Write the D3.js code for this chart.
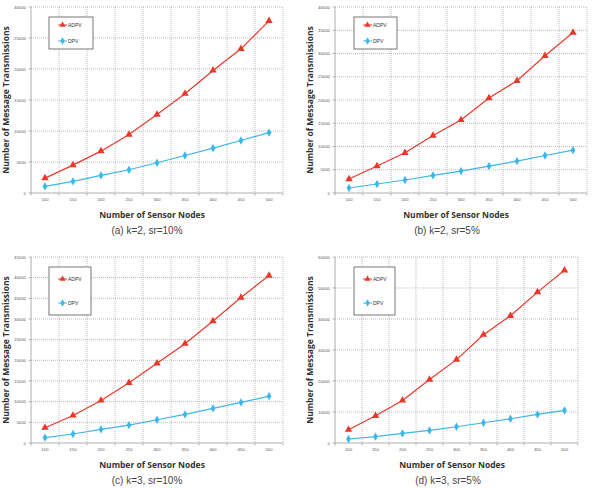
<!DOCTYPE html>
<html>
<head>
<meta charset="utf-8">
<script src="https://cdn.jsdelivr.net/npm/d3@7"></script>
<style>
  body { margin: 0; background: #fff; }
  svg { display: block; }
</style>
</head>
<body>
<script>
// sensor node counts (x categories)
var nodes = [100, 150, 200, 250, 300, 350, 400, 450, 500];

// (a) k=2, sr=10%
var adpvA = [2400, 4500, 6750, 9430, 12650, 16020, 19770, 23250, 27760];
var dpvA  = [1070, 1880, 2840, 3750, 4880, 6050, 7230, 8470, 9750];
// (b) k=2, sr=5%
var adpvB = [3000, 5790, 8640, 12360, 15710, 20430, 24140, 29500, 34500];
var dpvB  = [1070, 1930, 2790, 3790, 4710, 5790, 6860, 8070, 9210];
// (c) k=3, sr=10%
var adpvC = [3700, 6670, 10290, 14550, 19290, 24030, 29500, 35200, 40510];
var dpvC  = [1290, 2170, 3300, 4340, 5630, 6910, 8360, 9810, 11330];
// (d) k=3, sr=5%
var adpvD = [4290, 8790, 13720, 20470, 26900, 34940, 41050, 48660, 55730];
var dpvD  = [1290, 2040, 3110, 4070, 5250, 6540, 7820, 9220, 10500];

var captions = ["(a) k=2, sr=10%", "(b) k=2, sr=5%", "(c) k=3, sr=10%", "(d) k=3, sr=5%"];
var yMaxes = [30000, 40000, 45000, 60000];
var ySteps = [5000, 5000, 5000, 10000];

var red = "#e8382a", blue = "#3db6e8";

var panels = [
  {l: 31, r: 283, t: 7, b: 193, lx: 49, ly: 17, lw: 44, lh: 32, cx: 147, ax: 152, tx: 3},
  {l: 335, r: 587, t: 7, b: 193, lx: 354, ly: 17, lw: 43, lh: 32, cx: 447, ax: 456, tx: 307},
  {l: 31, r: 283, t: 257, b: 443, lx: 49, ly: 267, lw: 42, lh: 48, cx: 147, ax: 152, tx: 3},
  {l: 335, r: 578, t: 257, b: 443, lx: 354, ly: 267, lw: 41, lh: 48, cx: 448, ax: 452, tx: 307}
];
var series = [[adpvA, dpvA], [adpvB, dpvB], [adpvC, dpvC], [adpvD, dpvD]];

var svg = d3.select("body").append("svg")
    .attr("width", 593)
    .attr("height", 488);

panels.forEach(function(p, i) {
  var g = svg.append("g");

  var x = d3.scaleBand()
      .domain(nodes)
      .range([p.l, p.r]);

  var y = d3.scaleLinear()
      .domain([0, yMaxes[i]])
      .range([p.b, p.t]);

  var yTicks = d3.range(0, yMaxes[i] + 1, ySteps[i]);

  // horizontal grid
  g.selectAll(".hgrid").data(yTicks.slice(1)).enter().append("line")
      .attr("x1", p.l).attr("x2", p.r)
      .attr("y1", function(d) { return y(d); })
      .attr("y2", function(d) { return y(d); })
      .attr("stroke", "#aaa")
      .attr("stroke-width", 0.8)
      .attr("stroke-dasharray", "1,1");

  // vertical grid at category boundaries
  var bounds = nodes.map(function(n) { return x(n) + x.bandwidth(); });
  g.selectAll(".vgrid").data(bounds).enter().append("line")
      .attr("x1", function(d) { return d; })
      .attr("x2", function(d) { return d; })
      .attr("y1", p.t).attr("y2", p.b)
      .attr("stroke", "#aaa")
      .attr("stroke-width", 0.8)
      .attr("stroke-dasharray", "1,1");

  // axes lines
  g.append("line")
      .attr("x1", p.l).attr("x2", p.l)
      .attr("y1", p.t).attr("y2", p.b)
      .attr("stroke", "#999").attr("stroke-width", 0.8);
  g.append("line")
      .attr("x1", p.l).attr("x2", p.r)
      .attr("y1", p.b).attr("y2", p.b)
      .attr("stroke", "#999").attr("stroke-width", 0.8);

  // x tick marks at boundaries
  g.selectAll(".xtick").data([p.l].concat(bounds)).enter().append("line")
      .attr("x1", function(d) { return d; })
      .attr("x2", function(d) { return d; })
      .attr("y1", p.b).attr("y2", p.b + 2.5)
      .attr("stroke", "#999").attr("stroke-width", 0.7);

  // y tick marks
  g.selectAll(".ytick").data(yTicks).enter().append("line")
      .attr("x1", p.l - 2.5).attr("x2", p.l)
      .attr("y1", function(d) { return y(d); })
      .attr("y2", function(d) { return y(d); })
      .attr("stroke", "#999").attr("stroke-width", 0.7);

  // tick labels
  g.selectAll(".ylab").data(yTicks).enter().append("text")
      .attr("x", p.l - 5)
      .attr("y", function(d) { return y(d) + 1.5; })
      .attr("text-anchor", "end")
      .attr("font-family", "Liberation Sans, Arial, sans-serif")
      .attr("font-size", 4.3)
      .attr("fill", "#555")
      .text(function(d) { return d; });

  g.selectAll(".xlab").data(nodes).enter().append("text")
      .attr("x", function(d) { return x(d) + x.bandwidth() / 2; })
      .attr("y", p.b + 8)
      .attr("text-anchor", "middle")
      .attr("font-family", "Liberation Sans, Arial, sans-serif")
      .attr("font-size", 4.3)
      .attr("fill", "#555")
      .text(function(d) { return d; });

  // lines + markers
  var line = d3.line()
      .x(function(d, j) { return x(nodes[j]) + x.bandwidth() / 2; })
      .y(function(d) { return y(d); });

  var cols = [red, blue];
  var shapes = [d3.symbolTriangle, d3.symbolDiamond];
  series[i].forEach(function(vals, k) {
    g.append("path")
        .datum(vals)
        .attr("d", line)
        .attr("fill", "none")
        .attr("stroke", cols[k])
        .attr("stroke-width", 1.2);
    g.selectAll(".m" + k).data(vals).enter().append("path")
        .attr("d", d3.symbol().type(shapes[k]).size(k == 0 ? 24 : 20))
        .attr("transform", function(d, j) {
          return "translate(" + (x(nodes[j]) + x.bandwidth() / 2) + "," + y(d) + ")";
        })
        .attr("fill", cols[k]);
  });

  // legend
  g.append("rect")
      .attr("x", p.lx).attr("y", p.ly)
      .attr("width", p.lw).attr("height", p.lh)
      .attr("fill", "#fff")
      .attr("stroke", "#555")
      .attr("stroke-width", 0.8);
  ["ADPV", "DPV"].forEach(function(name, k) {
    var ly = p.ly + (k == 0 ? 0.25 : 0.75) * p.lh;
    g.append("line")
        .attr("x1", p.lx + 9).attr("x2", p.lx + 18)
        .attr("y1", ly).attr("y2", ly)
        .attr("stroke", cols[k]).attr("stroke-width", 1);
    g.append("path")
        .attr("d", d3.symbol().type(shapes[k]).size(16))
        .attr("transform", "translate(" + (p.lx + 13.5) + "," + ly + ")")
        .attr("fill", cols[k]);
    g.append("text")
        .attr("x", p.lx + 19)
        .attr("y", ly + 2)
        .attr("font-family", "Liberation Sans, Arial, sans-serif")
        .attr("font-size", 5)
        .attr("fill", "#333")
        .text(name);
  });

  // axis titles
  g.append("text")
      .attr("x", p.ax)
      .attr("y", p.b + 25)
      .attr("text-anchor", "middle")
      .attr("font-family", "Open Sans, sans-serif")
      .attr("font-weight", "bold")
      .attr("font-size", 8.5)
      .attr("fill", "#333")
      .text("Number of Sensor Nodes");

  g.append("text")
      .attr("transform", "translate(" + p.tx + "," + ((p.t + p.b) / 2) + ") rotate(-90)")
      .attr("y", 6)
      .attr("text-anchor", "middle")
      .attr("font-family", "Open Sans, sans-serif")
      .attr("font-weight", "bold")
      .attr("font-size", 8.5)
      .attr("fill", "#333")
      .text("Number of Message Transmissions");

  g.append("text")
      .attr("x", p.cx)
      .attr("y", p.b + 41)
      .attr("text-anchor", "middle")
      .attr("font-family", "Liberation Sans, Arial, sans-serif")
      .attr("font-size", 10)
      .attr("fill", "#444")
      .text(captions[i]);
});
</script>
</body>
</html>
